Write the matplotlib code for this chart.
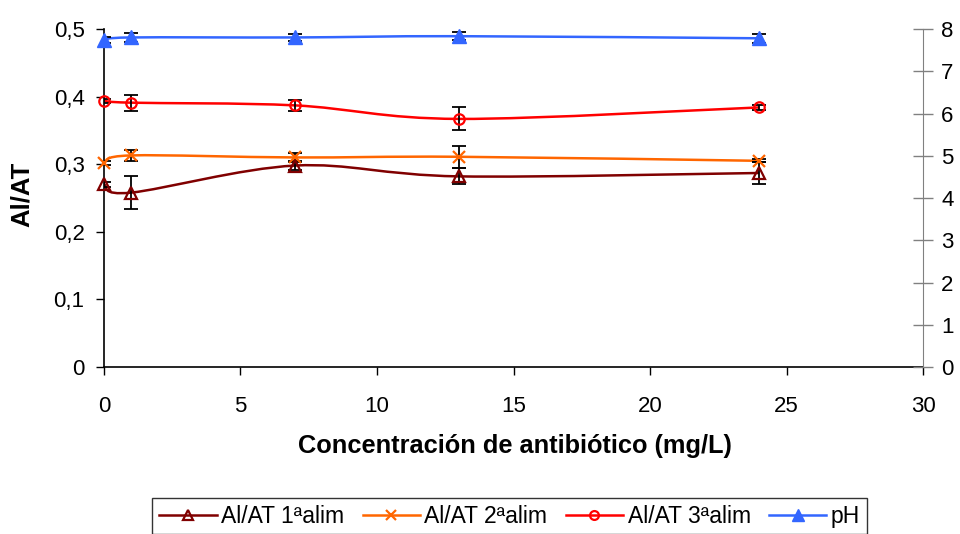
import numpy as np
import matplotlib
matplotlib.use("Agg")
import matplotlib.pyplot as plt
from matplotlib.path import Path
from matplotlib.patches import PathPatch
from matplotlib.lines import Line2D

plt.rcParams['font.family'] = ['Liberation Sans', 'DejaVu Sans']

# ---- data ----
conc = [0, 1, 7, 13, 24]
alat_1 = [0.270, 0.258, 0.298, 0.282, 0.287]
alat_1_err = [0.004, 0.024, 0.007, 0.012, 0.017]
alat_2 = [0.302, 0.313, 0.310, 0.311, 0.305]
alat_2_err = [0.003, 0.008, 0.006, 0.016, 0.002]
alat_3 = [0.394, 0.391, 0.387, 0.367, 0.384]
alat_3_err = [0.003, 0.012, 0.008, 0.017, 0.004]
ph = [7.74, 7.80, 7.80, 7.83, 7.78]
ph_err = [0.08, 0.10, 0.08, 0.10, 0.10]

series_names = ["Al/AT 1ªalim", "Al/AT 2ªalim", "Al/AT 3ªalim", "pH"]
left_ticks = [0, 0.1, 0.2, 0.3, 0.4, 0.5]
left_ticklabels = ["0", "0,1", "0,2", "0,3", "0,4", "0,5"]
right_ticks = [0, 1, 2, 3, 4, 5, 6, 7, 8]
x_ticks = [0, 5, 10, 15, 20, 25, 30]

colors = ["#800000", "#FF6600", "#FF0000", "#3366FF"]


def smooth_path(x, y):
    x = np.asarray(x, float)
    y = np.asarray(y, float)
    pts = np.column_stack([x, y])
    n = len(pts)
    verts = [pts[0]]
    codes = [Path.MOVETO]
    for i in range(n - 1):
        p0 = pts[i - 1] if i > 0 else pts[i]
        p1 = pts[i]
        p2 = pts[i + 1]
        p3 = pts[i + 2] if i + 2 < n else pts[i + 1]
        c1 = p1 + (p2 - p0) / 6.0
        c2 = p2 - (p3 - p1) / 6.0
        verts += [c1, c2, p2]
        codes += [Path.CURVE4] * 3
    return Path(verts, codes)


fig = plt.figure(figsize=(9.6, 5.34), dpi=100)
ax = fig.add_axes([0.1083, 0.3127, 0.8532, 0.633])
ax2 = ax.twinx()

fs = 16

ax.set_xlim(0, 30)
ax.set_ylim(0, 0.5)
ax2.set_ylim(0, 8)

markers = [dict(marker='^', ms=8, mfc='none', mec=colors[0], mew=1.6),
           dict(marker='x', ms=9, mec=colors[1], mew=1.6),
           dict(marker='o', ms=7.5, mfc='none', mec=colors[2], mew=1.6),
           dict(marker='^', ms=10.5, mfc=colors[3], mec=colors[3], mew=1)]

data = [(ax, alat_1, alat_1_err), (ax, alat_2, alat_2_err),
        (ax, alat_3, alat_3_err), (ax2, ph, ph_err)]

for (a, vals, errs), c, mk in zip(data, colors, markers):
    a.add_patch(PathPatch(smooth_path(conc, vals), fill=False, edgecolor=c,
                          lw=1.8, zorder=3))
    a.errorbar(conc, vals, yerr=errs, fmt='none', ecolor='black',
               elinewidth=1.3, capsize=5, capthick=1.3, zorder=4)
    a.plot(conc, vals, linestyle='none', zorder=5, clip_on=False, **mk)

ax.set_xticks(x_ticks)
ax.set_yticks(left_ticks)
ax.set_yticklabels(left_ticklabels)
ax2.set_yticks(right_ticks)

ax.tick_params(axis='both', labelsize=fs, direction='out', length=6,
               width=1, colors='black')
ax.tick_params(axis='x', pad=15)
ax.tick_params(axis='y', pad=8)
ax2.tick_params(axis='y', labelsize=fs, direction='inout', length=14,
                width=1, color='#808080', labelcolor='black', pad=6)

for a in (ax, ax2):
    a.spines['top'].set_visible(False)
ax.spines['right'].set_visible(False)
ax2.spines['left'].set_visible(False)
ax2.spines['bottom'].set_visible(False)
ax2.spines['right'].set_color('#808080')
ax.spines['left'].set_linewidth(1.2)
ax.spines['bottom'].set_linewidth(1.2)

ax.set_xlabel("Concentración de antibiótico (mg/L)", fontsize=18.3,
              fontweight='bold')
ax.xaxis.set_label_coords(0.502, -0.198)
ax.set_ylabel("Al/AT", fontsize=18.5, fontweight='bold')
ax.yaxis.set_label_coords(-0.085, 0.51)

handles = []
for c, mk in zip(colors, markers):
    m = dict(mk)
    m['ms'] = m['ms'] * 0.85
    handles.append(Line2D([], [], color=c, lw=1.8, **m))
leg = fig.legend(handles, series_names, loc='upper center',
                 bbox_to_anchor=(0.531, 0.068), ncol=4, fontsize=16.5,
                 frameon=True, fancybox=False, edgecolor='black',
                 handlelength=2.5, handletextpad=0.2, columnspacing=0.8,
                 borderpad=0.3, borderaxespad=0)
leg.get_frame().set_linewidth(1.0)

fig.savefig("out.png", dpi=100)
